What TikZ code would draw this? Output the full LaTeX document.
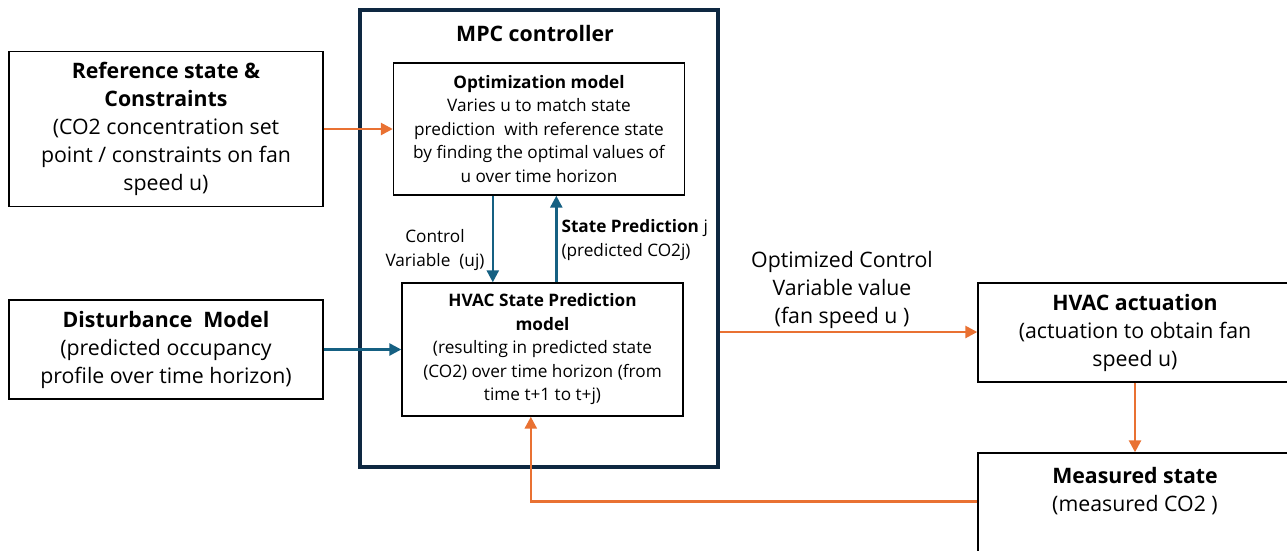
\documentclass[tikz,border=0pt]{standalone}
\usepackage{fontspec}
\setmainfont{Open Sans}
\usetikzlibrary{arrows.meta,calc}
\definecolor{frame}{HTML}{0E2841}
\definecolor{flowblue}{HTML}{156082}
\definecolor{floworange}{HTML}{E97132}
\begin{document}
\begin{tikzpicture}[x=1pt,y=-1pt,
  bigtext/.style={font=\fontsize{21.3}{28}\selectfont},
  smalltext/.style={font=\fontsize{17.2}{23.5}\selectfont},
  blockbox/.style={draw=black,line width=1.4pt,fill=white,align=center,inner sep=0pt},
  orangeflow/.style={draw=floworange,line width=2.6pt,-{Triangle[length=12pt,width=12pt]}},
  blueflow/.style={draw=flowblue,line width=2.6pt,-{Triangle[length=12pt,width=12pt]}}]
\useasboundingbox (0,0) rectangle (1287,550);
\clip (0,0) rectangle (1287,550);

% controller frame and its title
\node[draw=frame,line width=4pt,minimum width=358pt,minimum height=457pt,inner sep=0pt] (mpc) at (539,238.5) {};
\node[bigtext] (mpctitle) at (535,34) {\textbf{MPC controller}};

% blocks inside the controller
\node[blockbox,smalltext,minimum width=291pt,minimum height=132pt] (opt) at (539,129)
  {\textbf{Optimization model}\\Varies u to match state\\prediction~ with reference state\\by finding the optimal values of\\u over time horizon};
\node[blockbox,smalltext,minimum width=281pt,minimum height=133pt] (pred) at (542.5,349.5)
  {\textbf{HVAC State Prediction}\\\textbf{model}\\(resulting in predicted state\\(CO2) over time horizon (from\\time t+1 to t+j)};

% inputs on the left
\node[blockbox,bigtext,minimum width=314pt,minimum height=155pt] (ref) at (166,129)
  {\textbf{Reference state \&}\\\textbf{Constraints}\\(CO2 concentration set\\point / constraints on fan\\speed u)};
\node[blockbox,bigtext,minimum width=314pt,minimum height=99pt] (dist) at (166,349.5)
  {\textbf{Disturbance~ Model}\\(predicted occupancy\\profile over time horizon)};

% plant side on the right
\node[blockbox,bigtext,minimum width=314pt,minimum height=99pt] (act) at (1135,332.5)
  {\textbf{HVAC actuation}\\(actuation to obtain fan\\speed u)};
\node[blockbox,bigtext,minimum width=314pt,minimum height=156pt] (meas) at (1135,531)
  {\textbf{Measured state}\\(measured CO2 )\\~\\~\\~};

% labels on the connectors
\node[smalltext,align=center] (ctrllbl) at (435,250) {Control\\Variable~ (uj)};
\node[smalltext,align=left,anchor=west] (predlbl) at (558,240) {\textbf{State Prediction} j\\(predicted CO2j)};
\node[bigtext,align=center] (outlbl) at (842,289.5) {Optimized Control\\Variable value\\(fan speed u )};

% connectors
\draw[orangeflow] (ref.east) -- (opt.west);
\draw[blueflow] (dist.east) -- (pred.west);
\draw[blueflow] ($(opt.south west)+(100,0)$) coordinate (cvtop) -- (cvtop |- pred.north);
\draw[blueflow] ($(pred.north west)+(155,0)$) coordinate (spbot) -- (spbot |- opt.south);
\coordinate (outstart) at ($(mpc.east)+(0,93.5)$);
\draw[orangeflow] (outstart) -- (outstart -| act.west);
\draw[orangeflow] (act.south) -- (meas.north);
\coordinate (fbstart) at ($(meas.north west)+(0,49)$);
\coordinate (fbcorner) at ($(pred.south west)+(129.5,0)$);
\draw[orangeflow] (fbstart) -- (fbstart -| fbcorner) -- (fbcorner);
\end{tikzpicture}
\end{document}
